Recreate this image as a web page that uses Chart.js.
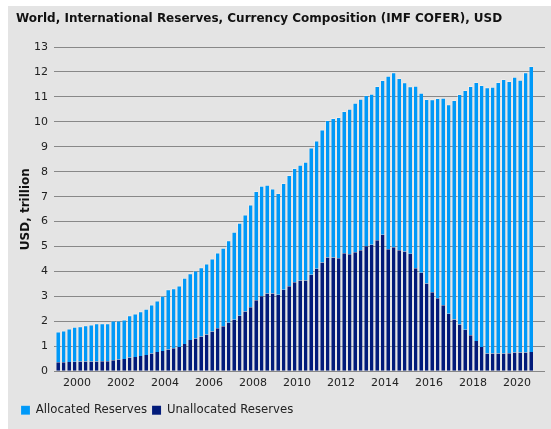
<!DOCTYPE html>
<html>
<head>
<meta charset="utf-8">
<script src="https://cdn.jsdelivr.net/npm/chart.js@4.4.1/dist/chart.umd.min.js"></script>
<style>
  html, body { margin: 0; padding: 0; background: #fff; }
  #panel { position: absolute; left: 8px; top: 6px; width: 543px; height: 423px; background: #e4e4e4; }
  #wrap { position: absolute; left: 0; top: 0; width: 551px; height: 429px; }
</style>
</head>
<body>
<div id="panel"></div>
<div id="wrap"><canvas id="reservesChart" width="551" height="429"></canvas></div>
<script>
// quarterly observations, 1999 Q1 .. 2020 Q3
const quarters = [
  '1999 Q1', '1999 Q2', '1999 Q3', '1999 Q4',
  '2000 Q1', '2000 Q2', '2000 Q3', '2000 Q4',
  '2001 Q1', '2001 Q2', '2001 Q3', '2001 Q4',
  '2002 Q1', '2002 Q2', '2002 Q3', '2002 Q4',
  '2003 Q1', '2003 Q2', '2003 Q3', '2003 Q4',
  '2004 Q1', '2004 Q2', '2004 Q3', '2004 Q4',
  '2005 Q1', '2005 Q2', '2005 Q3', '2005 Q4',
  '2006 Q1', '2006 Q2', '2006 Q3', '2006 Q4',
  '2007 Q1', '2007 Q2', '2007 Q3', '2007 Q4',
  '2008 Q1', '2008 Q2', '2008 Q3', '2008 Q4',
  '2009 Q1', '2009 Q2', '2009 Q3', '2009 Q4',
  '2010 Q1', '2010 Q2', '2010 Q3', '2010 Q4',
  '2011 Q1', '2011 Q2', '2011 Q3', '2011 Q4',
  '2012 Q1', '2012 Q2', '2012 Q3', '2012 Q4',
  '2013 Q1', '2013 Q2', '2013 Q3', '2013 Q4',
  '2014 Q1', '2014 Q2', '2014 Q3', '2014 Q4',
  '2015 Q1', '2015 Q2', '2015 Q3', '2015 Q4',
  '2016 Q1', '2016 Q2', '2016 Q3', '2016 Q4',
  '2017 Q1', '2017 Q2', '2017 Q3', '2017 Q4',
  '2018 Q1', '2018 Q2', '2018 Q3', '2018 Q4',
  '2019 Q1', '2019 Q2', '2019 Q3', '2019 Q4',
  '2020 Q1', '2020 Q2', '2020 Q3'
];

// USD trillion
const unallocated = [
  0.36, 0.36, 0.37, 0.38, 0.39, 0.39, 0.39, 0.39, 0.40, 0.40,
  0.44, 0.47, 0.49, 0.55, 0.57, 0.61, 0.65, 0.71, 0.77, 0.81,
  0.87, 0.92, 0.97, 1.09, 1.25, 1.31, 1.40, 1.48, 1.60, 1.73,
  1.81, 1.95, 2.07, 2.23, 2.40, 2.57, 2.85, 3.01, 3.12, 3.12,
  3.07, 3.27, 3.41, 3.57, 3.64, 3.64, 3.87, 4.11, 4.36, 4.56,
  4.56, 4.53, 4.73, 4.69, 4.77, 4.85, 5.01, 5.07, 5.25, 5.47,
  4.89, 4.97, 4.85, 4.80, 4.71, 4.13, 3.95, 3.52, 3.17, 2.93,
  2.65, 2.31, 2.08, 1.88, 1.67, 1.45, 1.21, 0.97, 0.71, 0.71,
  0.71, 0.71, 0.72, 0.75, 0.75, 0.75, 0.77
];

const allocated = [
  1.24, 1.28, 1.35, 1.41, 1.42, 1.46, 1.49, 1.54, 1.53, 1.53,
  1.60, 1.57, 1.59, 1.70, 1.75, 1.80, 1.86, 1.97, 2.07, 2.22,
  2.42, 2.41, 2.47, 2.66, 2.68, 2.73, 2.77, 2.84, 2.92, 3.03,
  3.14, 3.30, 3.52, 3.72, 3.89, 4.12, 4.38, 4.43, 4.36, 4.21,
  4.08, 4.28, 4.46, 4.58, 4.64, 4.76, 5.10, 5.14, 5.33, 5.51,
  5.59, 5.66, 5.70, 5.83, 6.00, 6.08, 6.07, 6.06, 6.19, 6.21,
  6.96, 7.02, 6.91, 6.79, 6.72, 7.32, 7.22, 7.40, 7.74, 8.03,
  8.32, 8.40, 8.80, 9.24, 9.61, 9.99, 10.39, 10.51, 10.68, 10.70,
  10.89, 11.01, 10.92, 11.06, 10.94, 11.24, 11.47
];

const yearLabels = ['2000', '2002', '2004', '2006', '2008', '2010', '2012', '2014', '2016', '2018', '2020'];

const fontFamily = '"DejaVu Sans", Verdana, sans-serif';

const toPoints = values => values.map((v, i) => ({ x: i, y: v }));

const ctx = document.getElementById('reservesChart').getContext('2d');
new Chart(ctx, {
  type: 'bar',
  data: {
    labels: quarters,
    datasets: [
      {
        label: 'Unallocated Reserves',
        data: toPoints(unallocated),
        backgroundColor: '#021b7a',
        borderColor: 'rgba(255,255,255,0.18)',
        borderWidth: { left: 1, top: 0, right: 0, bottom: 0 },
        borderSkipped: false,
        barPercentage: 0.82,
        categoryPercentage: 1,
        order: 1
      },
      {
        label: 'Allocated Reserves',
        data: toPoints(allocated),
        backgroundColor: '#0099f8',
        borderColor: 'rgba(255,255,255,0.3)',
        borderWidth: { left: 1, top: 1, right: 0, bottom: 0 },
        borderSkipped: false,
        barPercentage: 0.82,
        categoryPercentage: 1,
        order: 2
      }
    ]
  },
  options: {
    responsive: false,
    animation: false,
    layout: { padding: { left: 16, right: 6, top: 0, bottom: 3 } },
    plugins: {
      title: {
        display: true,
        text: 'World, International Reserves, Currency Composition (IMF COFER), USD',
        align: 'start',
        color: '#111',
        font: { family: fontFamily, size: 12, weight: 'bold' },
        padding: { top: 12, bottom: 20.6 }
      },
      legend: {
        position: 'bottom',
        align: 'start',
        reverse: true,
        labels: {
          color: '#222',
          font: { family: fontFamily, size: 11.7 },
          boxWidth: 9,
          boxHeight: 9,
          padding: 5
        }
      },
      tooltip: { enabled: false }
    },
    scales: {
      x: {
        type: 'linear',
        stacked: true,
        offset: false,
        min: -0.68,
        max: 88.59,
        grid: { display: false, drawTicks: false },
        border: { display: false },
        afterBuildTicks: scale => {
          scale.ticks = yearLabels.map(y => ({ value: quarters.indexOf(y + ' Q1') - 0.5 }));
        },
        afterFit: scale => { scale.height = 28; },
        ticks: {
          autoSkip: false,
          maxRotation: 0,
          padding: 5,
          color: '#222',
          font: { family: fontFamily, size: 11 },
          callback: value => quarters[value + 0.5].slice(0, 4)
        }
      },
      y: {
        stacked: true,
        min: 0,
        max: 13,
        z: 1,
        afterFit: scale => { scale.width = 38; },
        grid: {
          color: 'rgba(105,105,105,0.75)',
          lineWidth: 1,
          drawTicks: false
        },
        border: { display: false },
        ticks: {
          stepSize: 1,
          padding: 6,
          color: '#222',
          font: { family: fontFamily, size: 11 }
        },
        title: {
          display: true,
          text: 'USD, trillion',
          color: '#111',
          font: { family: fontFamily, size: 12, weight: 'bold' },
          padding: { top: 3, bottom: 2 }
        }
      }
    }
  }
});
</script>
</body>
</html>
